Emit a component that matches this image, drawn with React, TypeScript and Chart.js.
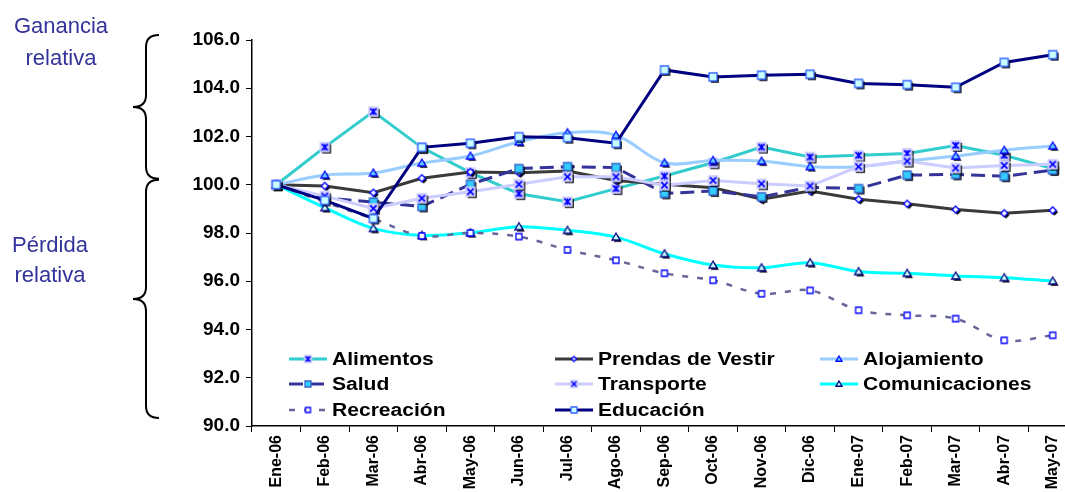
import React, { useEffect, useRef } from 'react';
import { Chart, registerables } from 'chart.js';

Chart.register(...registerables);

const categories = ['Ene-06', 'Feb-06', 'Mar-06', 'Abr-06', 'May-06', 'Jun-06', 'Jul-06', 'Ago-06', 'Sep-06', 'Oct-06', 'Nov-06', 'Dic-06', 'Ene-07', 'Feb-07', 'Mar-07', 'Abr-07', 'May-07'];

const alimentos = [100, 101.56, 103.03, 101.54, 100.5, 99.63, 99.3, 99.84, 100.36, 100.91, 101.56, 101.15, 101.22, 101.3, 101.63, 101.22, 100.67];
const prendas = [100, 99.95, 99.67, 100.27, 100.53, 100.5, 100.57, 100.18, 100.02, 99.88, 99.4, 99.74, 99.4, 99.21, 98.97, 98.82, 98.94];
const alojamiento = [100, 100.4, 100.49, 100.9, 101.19, 101.78, 102.16, 102.05, 100.91, 101.01, 100.98, 100.75, 100.75, 100.98, 101.19, 101.43, 101.61];
const salud = [100, 99.45, 99.28, 99.1, 100.02, 100.67, 100.75, 100.71, 99.64, 99.74, 99.5, 99.9, 99.84, 100.4, 100.43, 100.35, 100.61];
const transporte = [100, 99.53, 99.02, 99.44, 99.71, 100.02, 100.33, 100.33, 99.98, 100.18, 100.04, 99.95, 100.75, 100.98, 100.69, 100.8, 100.85];
const comunicaciones = [100, 99.05, 98.19, 97.9, 98.01, 98.26, 98.11, 97.83, 97.14, 96.67, 96.56, 96.77, 96.4, 96.33, 96.22, 96.15, 96.01];
const recreacion = [100, 99.28, 98.59, 97.88, 98.0, 97.85, 97.3, 96.87, 96.33, 96.04, 95.48, 95.62, 94.8, 94.59, 94.45, 93.55, 93.76];
const educacion = [100, 99.35, 98.6, 101.55, 101.72, 101.99, 101.95, 101.72, 104.76, 104.47, 104.54, 104.58, 104.2, 104.15, 104.04, 105.07, 105.39];

const seriesNames = ['Alimentos', 'Prendas de Vestir', 'Alojamiento', 'Salud', 'Transporte', 'Comunicaciones', 'Recreación', 'Educación'];
const yTicks = { min: 90, max: 106, step: 2 };

const FONT = "'Liberation Sans', Arial, sans-serif";

type Kind = 'asterisk' | 'x' | 'diamond' | 'triBlue' | 'triNavy' | 'sqTeal' | 'sqSmall' | 'sqEdu';

function makeMarker(kind: Kind, size: number, shadow: boolean): HTMLCanvasElement {
  const pad = 3;
  const dim = Math.ceil(size + pad * 2);
  const c = document.createElement('canvas');
  c.width = dim;
  c.height = dim;
  const ctx = c.getContext('2d')!;
  const cx = dim / 2;
  const cy = dim / 2;
  const h = size / 2;
  const path = (dx: number, dy: number) => {
    ctx.beginPath();
    const x = cx + dx;
    const y = cy + dy;
    if (kind === 'diamond') {
      ctx.moveTo(x, y - h);
      ctx.lineTo(x + h, y);
      ctx.lineTo(x, y + h);
      ctx.lineTo(x - h, y);
      ctx.closePath();
    } else if (kind === 'triBlue' || kind === 'triNavy') {
      ctx.moveTo(x, y - h);
      ctx.lineTo(x + h, y + h * 0.75);
      ctx.lineTo(x - h, y + h * 0.75);
      ctx.closePath();
    } else {
      ctx.rect(x - h, y - h, size, size);
    }
  };
  if (shadow && kind !== 'sqSmall') {
    path(1.8, 1.8);
    ctx.fillStyle = '#000000';
    ctx.fill();
  }
  path(0, 0);
  ctx.lineWidth = 1.3;
  let fill = '#ffffff';
  let stroke = '#0000ff';
  if (kind === 'asterisk' || kind === 'x') { fill = '#ccccff'; stroke = '#ccccff'; }
  if (kind === 'triBlue') { fill = '#66ccff'; stroke = '#0000ff'; }
  if (kind === 'triNavy') { fill = '#ccffff'; stroke = '#000080'; }
  if (kind === 'sqTeal') { fill = '#33ccff'; stroke = '#3366cc'; }
  if (kind === 'sqEdu') { fill = '#ccffff'; stroke = '#3366ff'; }
  ctx.fillStyle = fill;
  ctx.fill();
  ctx.strokeStyle = stroke;
  ctx.stroke();
  if (kind === 'asterisk' || kind === 'x') {
    const k = h * 0.7;
    ctx.strokeStyle = '#0000ff';
    ctx.lineWidth = 1.5;
    ctx.beginPath();
    ctx.moveTo(cx - k, cy - k);
    ctx.lineTo(cx + k, cy + k);
    ctx.moveTo(cx + k, cy - k);
    ctx.lineTo(cx - k, cy + k);
    if (kind === 'asterisk') {
      ctx.moveTo(cx, cy - k);
      ctx.lineTo(cx, cy + k);
    }
    ctx.stroke();
  }
  return c;
}

const seriesValues = [alimentos, prendas, alojamiento, salud, transporte, comunicaciones, recreacion, educacion];
const seriesColors = ['#33cccc', '#3a3a3a', '#99ccff', '#333399', '#ccccff', '#00ffff', '#666699', '#000080'];
const seriesKinds: Kind[] = ['asterisk', 'diamond', 'triBlue', 'sqTeal', 'x', 'triNavy', 'sqSmall', 'sqEdu'];
const seriesDash = [[], [], [], [14, 7], [], [], [6, 9], []];
const seriesWidth = [3, 3, 3, 3, 3, 3, 2.5, 3];
const seriesTension = [0, 0, 0.35, 0, 0, 0.35, 0.35, 0];
const markerSize = [9, 7, 8, 8, 9, 8, 6, 8];

export default function App() {
  const ref = useRef<HTMLCanvasElement | null>(null);

  useEffect(() => {
    if (!ref.current) return;
    const pointImgs = seriesKinds.map((k, i) => makeMarker(k, markerSize[i], true));
    const legendImgs = seriesKinds.map((k, i) => makeMarker(k, Math.max(5, markerSize[i] - 2), false));

    const decor = {
      id: 'decor',
      afterDraw(chart: any) {
        const ctx = chart.ctx as CanvasRenderingContext2D;
        const area = chart.chartArea;
        const ys = chart.scales.y;
        const brace = (yTop: number, yBot: number) => {
          const xEnd = 159;
          const xLine = 146;
          const xTip = 133;
          const r = 12;
          const yMid = (yTop + yBot) / 2;
          ctx.save();
          ctx.strokeStyle = '#000000';
          ctx.lineWidth = 2;
          ctx.beginPath();
          ctx.moveTo(xEnd, yTop);
          ctx.quadraticCurveTo(xLine, yTop, xLine, yTop + r);
          ctx.lineTo(xLine, yMid - r);
          ctx.quadraticCurveTo(xLine, yMid, xTip, yMid);
          ctx.quadraticCurveTo(xLine, yMid, xLine, yMid + r);
          ctx.lineTo(xLine, yBot - r);
          ctx.quadraticCurveTo(xLine, yBot, xEnd, yBot);
          ctx.stroke();
          ctx.restore();
        };
        brace(ys.getPixelForValue(106) - 5, ys.getPixelForValue(100) - 6);
        brace(ys.getPixelForValue(100) - 5, ys.getPixelForValue(90) - 8);

        ctx.save();
        ctx.fillStyle = '#333399';
        ctx.font = `22px ${FONT}`;
        ctx.textAlign = 'center';
        ctx.textBaseline = 'alphabetic';
        ctx.fillText('Ganancia', 61, 33);
        ctx.fillText('relativa', 61, 65);
        ctx.fillText('Pérdida', 50, 252);
        ctx.fillText('relativa', 50, 282);
        ctx.restore();

        const colX = [37, 303, 568];
        const rowY = [67, 42, 16];
        chart.data.datasets.forEach((ds: any, i: number) => {
          const col = i % 3;
          const row = Math.floor(i / 3);
          const x0 = area.left + colX[col];
          const y = area.bottom - rowY[row];
          ctx.save();
          ctx.strokeStyle = ds.borderColor;
          ctx.lineWidth = ds.borderWidth;
          ctx.setLineDash(ds.borderDash || []);
          ctx.beginPath();
          ctx.moveTo(x0, y);
          ctx.lineTo(x0 + 38, y);
          ctx.stroke();
          ctx.setLineDash([]);
          const img = legendImgs[i];
          ctx.drawImage(img, x0 + 19 - img.width / 2, y - img.height / 2);
          ctx.fillStyle = '#000000';
          ctx.font = `bold 18px ${FONT}`;
          ctx.textAlign = 'left';
          ctx.textBaseline = 'middle';
          ctx.translate(x0 + 43, y + 1);
          ctx.scale(1.17, 1);
          ctx.fillText(ds.label, 0, 0);
          ctx.restore();
        });
      },
    };

    const chart = new Chart(ref.current, {
      type: 'line',
      data: {
        labels: categories,
        datasets: seriesNames.map((name, i) => ({
          label: name,
          data: seriesValues[i],
          borderColor: seriesColors[i],
          backgroundColor: seriesColors[i],
          borderWidth: seriesWidth[i],
          borderDash: seriesDash[i],
          tension: seriesTension[i],
          pointStyle: pointImgs[i] as any,
          pointRadius: 5,
          fill: false,
          order: -i,
        })),
      },
      options: {
        responsive: true,
        maintainAspectRatio: false,
        animation: false,
        events: [],
        layout: { padding: { left: 0, top: 40, right: 0, bottom: 0 } },
        plugins: {
          legend: { display: false },
          tooltip: { enabled: false },
        },
        scales: {
          x: {
            offset: true,
            grid: { display: true, drawOnChartArea: false, drawTicks: true, tickLength: 6, color: '#000000', offset: true },
            border: { display: true, color: '#000000', width: 1.5 },
            ticks: {
              autoSkip: false,
              minRotation: 90,
              maxRotation: 90,
              padding: 3,
              color: '#000000',
              font: { family: FONT, size: 16, weight: 'bold' },
            },
            afterFit: (s: any) => { s.height = 74; },
          },
          y: {
            min: yTicks.min,
            max: yTicks.max,
            grid: { display: true, drawOnChartArea: false, drawTicks: true, tickLength: 6, color: '#000000' },
            border: { display: true, color: '#000000', width: 1.5 },
            ticks: {
              stepSize: yTicks.step,
              padding: 6,
              color: '#000000',
              font: { family: FONT, size: 19, weight: 'bold' },
              callback: (v: any) => Number(v).toFixed(1),
            },
            afterFit: (s: any) => { s.width = 252; },
          },
        },
      },
      plugins: [decor],
    });
    return () => chart.destroy();
  }, []);

  return (
    <div style={{ position: 'fixed', left: 0, top: 0, width: 1065, height: 492, overflow: 'hidden', background: '#ffffff' }}>
      <div style={{ position: 'relative', width: 1085, height: 500 }}>
        <canvas ref={ref} />
      </div>
    </div>
  );
}
